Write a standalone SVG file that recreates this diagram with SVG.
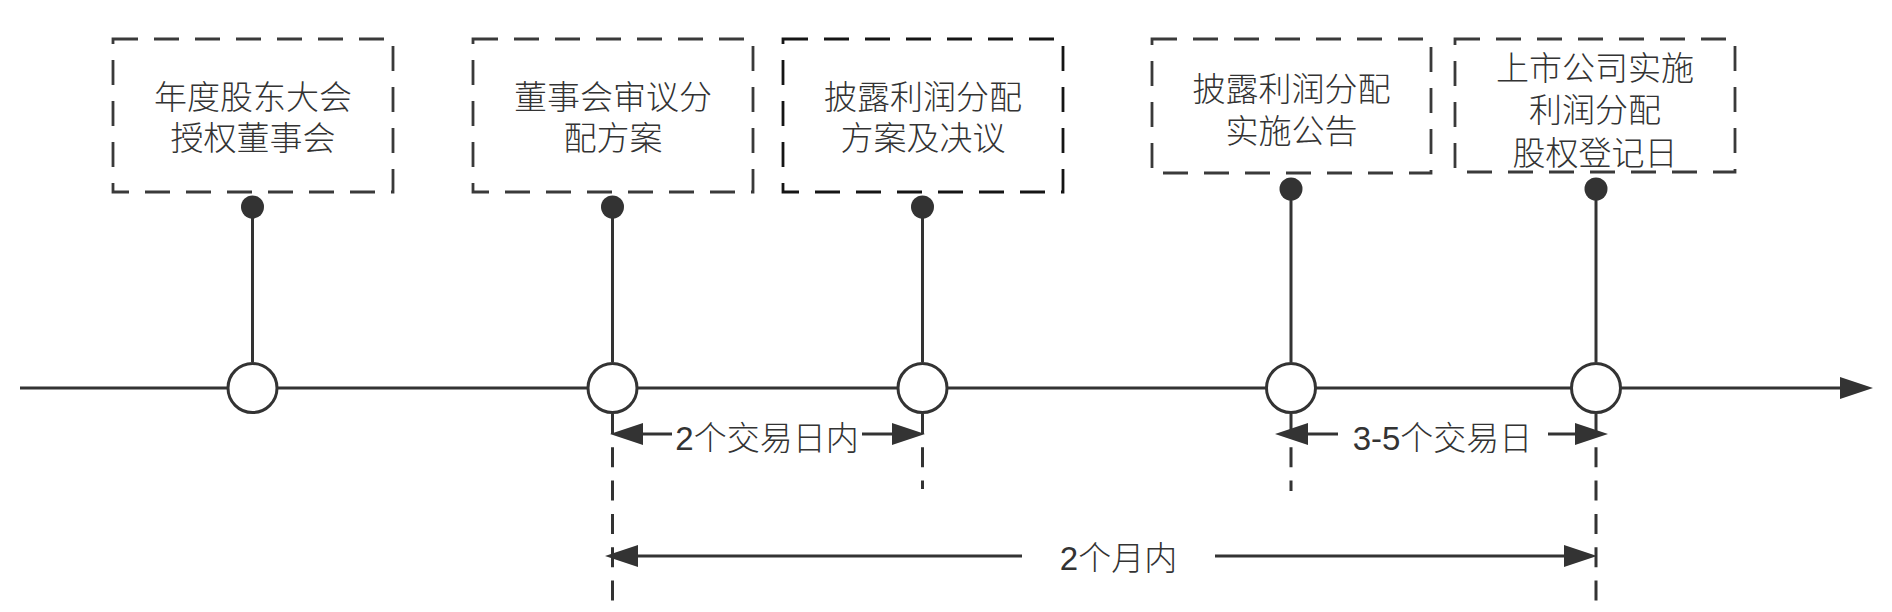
<svg xmlns="http://www.w3.org/2000/svg" width="1892" height="612" viewBox="0 0 1892 612">
  <style>
    .box { fill: #ffffff; stroke: #3a3a3a; stroke-width: 2.8; stroke-dasharray: 25 16; }
    .box.dark { stroke: #151515; }
    .lbl { font-family: "Liberation Sans", "Noto Sans CJK SC", sans-serif; font-size: 33px; font-weight: 300; fill: #333333; text-anchor: middle; }
    .ln { stroke: #333333; stroke-width: 3; fill: none; }
    .guide { stroke: #333333; stroke-width: 3; fill: none; stroke-dasharray: 20 13.3; }
    .dot { fill: #333333; }
    .ms { fill: #ffffff; stroke: #333333; stroke-width: 3; }
  </style>
  <defs>
    <marker id="arrow" markerUnits="userSpaceOnUse" markerWidth="36" markerHeight="26" viewBox="0 -13 36 26" refX="0" refY="0" orient="auto" overflow="visible">
      <path d="M0,-11 L33,0 L0,11 Z" fill="#333333"/>
    </marker>
  </defs>

  <!-- connectors -->
  <g id="connectors">
    <!-- main time axis -->
    <line class="ln" x1="20" y1="388" x2="1840" y2="388" marker-end="url(#arrow)"/>
    <!-- stems with dots -->
    <line class="ln" x1="252.5" y1="207" x2="252.5" y2="362"/>
    <circle class="dot" cx="252.5" cy="207" r="11.5"/>
    <line class="ln" x1="612.5" y1="207" x2="612.5" y2="362"/>
    <circle class="dot" cx="612.5" cy="207" r="11.5"/>
    <line class="ln" x1="922.5" y1="207" x2="922.5" y2="362"/>
    <circle class="dot" cx="922.5" cy="207" r="11.5"/>
    <line class="ln" x1="1291" y1="189" x2="1291" y2="362"/>
    <circle class="dot" cx="1291" cy="189" r="11.5"/>
    <line class="ln" x1="1596" y1="189" x2="1596" y2="362"/>
    <circle class="dot" cx="1596" cy="189" r="11.5"/>
    <!-- dashed guides -->
    <line class="guide" x1="612.5" y1="414" x2="612.5" y2="603"/>
    <line class="guide" x1="922.5" y1="414" x2="922.5" y2="489"/>
    <line class="guide" x1="1291" y1="414" x2="1291" y2="491"/>
    <line class="guide" x1="1596" y1="414" x2="1596" y2="603"/>
    <!-- 2个交易日内 -->
    <line class="ln" x1="672" y1="434" x2="643" y2="434" marker-end="url(#arrow)"/>
    <line class="ln" x1="862" y1="434" x2="892" y2="434" marker-end="url(#arrow)"/>
    <text class="lbl" x="767" y="450">2个交易日内</text>
    <!-- 3-5个交易日 -->
    <line class="ln" x1="1338" y1="434" x2="1308" y2="434" marker-end="url(#arrow)"/>
    <line class="ln" x1="1548" y1="434" x2="1575" y2="434" marker-end="url(#arrow)"/>
    <text class="lbl" x="1442.5" y="450">3-5个交易日</text>
    <!-- 2个月内 -->
    <line class="ln" x1="1022" y1="556" x2="638" y2="556" marker-end="url(#arrow)"/>
    <line class="ln" x1="1215" y1="556" x2="1564" y2="556" marker-end="url(#arrow)"/>
    <text class="lbl" x="1118.5" y="570">2个月内</text>
  </g>

  <!-- milestones on the axis -->
  <g id="milestone1"><circle class="ms" cx="252.5" cy="388" r="24.5"/></g>
  <g id="milestone2"><circle class="ms" cx="612.5" cy="388" r="24.5"/></g>
  <g id="milestone3"><circle class="ms" cx="922.5" cy="388" r="24.5"/></g>
  <g id="milestone4"><circle class="ms" cx="1291" cy="388" r="24.5"/></g>
  <g id="milestone5"><circle class="ms" cx="1596" cy="388" r="24.5"/></g>

  <!-- event boxes -->
  <g id="event1">
    <rect class="box" x="113" y="39" width="280" height="153"/>
    <text class="lbl"><tspan x="253" y="108.5">年度股东大会</tspan><tspan x="253" y="149.5">授权董事会</tspan></text>
  </g>
  <g id="event2">
    <rect class="box" x="473" y="39" width="280" height="153"/>
    <text class="lbl"><tspan x="613" y="108.5">董事会审议分</tspan><tspan x="613" y="149.5">配方案</tspan></text>
  </g>
  <g id="event3">
    <rect class="box dark" x="783" y="39" width="280" height="153"/>
    <text class="lbl"><tspan x="923" y="108.5">披露利润分配</tspan><tspan x="923" y="149.5">方案及决议</tspan></text>
  </g>
  <g id="event4">
    <rect class="box" x="1152" y="39" width="279" height="134"/>
    <text class="lbl"><tspan x="1291.5" y="100.5">披露利润分配</tspan><tspan x="1291.5" y="142.5">实施公告</tspan></text>
  </g>
  <g id="event5">
    <rect class="box" x="1455" y="39" width="280" height="133"/>
    <text class="lbl"><tspan x="1595" y="79.5">上市公司实施</tspan><tspan x="1595" y="122">利润分配</tspan><tspan x="1595" y="164.5">股权登记日</tspan></text>
  </g>
</svg>
